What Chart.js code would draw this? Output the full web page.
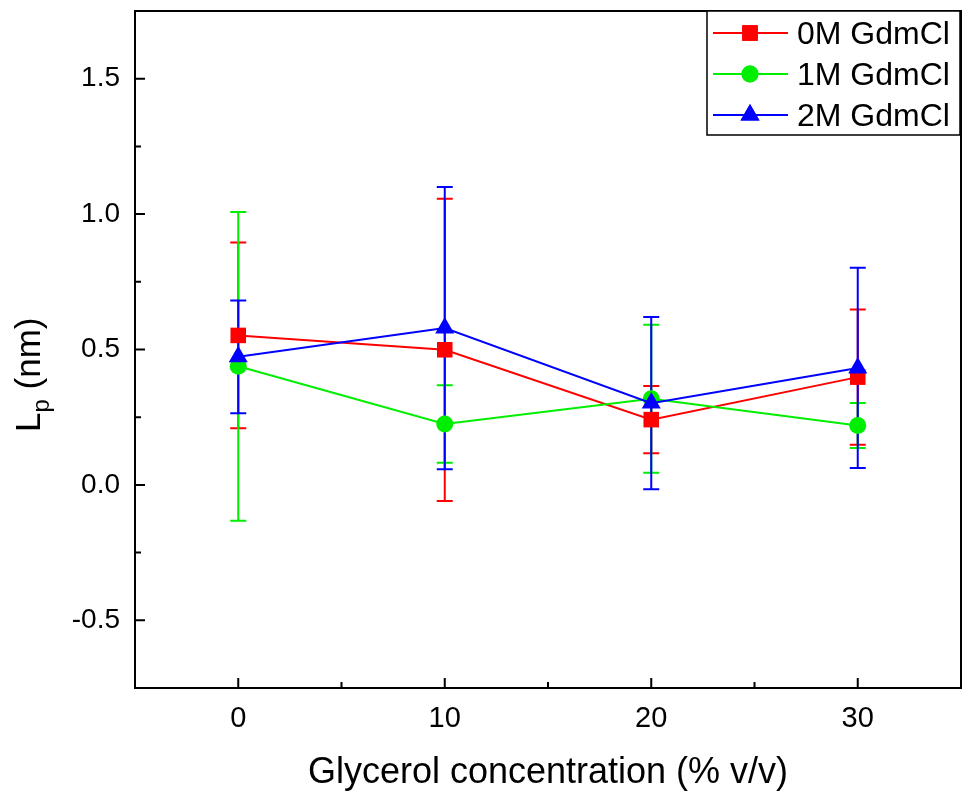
<!DOCTYPE html>
<html><head><meta charset="utf-8">
<script src="https://cdn.jsdelivr.net/npm/chart.js@4.4.0/dist/chart.umd.min.js"></script>
<style>html,body{margin:0;padding:0;background:#fff}#wrap{width:963px;height:793px}</style>
</head><body><div id="wrap"><canvas id="c" width="963" height="793"></canvas></div>
<script>
const concentrations = [0, 10, 20, 30];
const seriesLabels = ['0M GdmCl', '1M GdmCl', '2M GdmCl'];
const lp0M = [0.552, 0.499, 0.241, 0.398];
const err0M = [0.343, 0.558, 0.124, 0.250];
const lp1M = [0.438, 0.225, 0.318, 0.219];
const err1M = [0.570, 0.143, 0.273, 0.083];
const lp2M = [0.473, 0.579, 0.302, 0.432];
const err2M = [0.208, 0.521, 0.318, 0.370];
const xTicks = [0, 10, 20, 30];
const xMinorTicks = [5, 15, 25];
const yTicks = [-0.5, 0, 0.5, 1.0, 1.5];
const yMinorTicks = [-0.25, 0.25, 0.75, 1.25];
const xTitle = 'Glycerol concentration (% v/v)';
const yTitleMain = 'L', yTitleSub = 'p', yTitleRest = ' (nm)';

const colors = ['#ff0000', '#00ee00', '#0000ff'];
const styles = ['rect', 'circle', 'triangle'];
const radii = [11, 8.5, 11];
const FONT = "'Liberation Sans', Arial, sans-serif";

function mk(vals) { return concentrations.map((c, i) => ({x: c, y: vals[i]})); }
const allVals = [lp0M, lp1M, lp2M];
const allErr = [err0M, err1M, err2M];

const datasets = allVals.map((v, i) => ({
  label: seriesLabels[i],
  data: mk(v),
  errors: allErr[i],
  borderColor: colors[i],
  backgroundColor: colors[i],
  borderWidth: 2,
  pointStyle: styles[i],
  pointRadius: radii[i],
  pointHoverRadius: radii[i],
  pointBorderWidth: 0,
  pointBackgroundColor: colors[i],
  tension: 0,
  clip: false,
  order: 2 - i
}));

const errorBars = {
  id: 'errorBars',
  beforeDatasetsDraw(chart) {
    const {ctx, scales: {x, y}} = chart;
    ctx.save();
    ctx.lineWidth = 2;
    chart.data.datasets.forEach(ds => {
      ctx.strokeStyle = ds.borderColor;
      ds.data.forEach((p, j) => {
        const e = ds.errors[j];
        const px = x.getPixelForValue(p.x);
        const t = y.getPixelForValue(p.y + e), b = y.getPixelForValue(p.y - e);
        ctx.beginPath();
        ctx.moveTo(px, t); ctx.lineTo(px, b);
        ctx.moveTo(px - 8, t); ctx.lineTo(px + 8, t);
        ctx.moveTo(px - 8, b); ctx.lineTo(px + 8, b);
        ctx.stroke();
      });
    });
    ctx.restore();
  }
};

const frame = {
  id: 'frame',
  afterDraw(chart) {
    const {ctx, chartArea: a, scales: {x, y}} = chart;
    ctx.save();
    ctx.strokeStyle = '#000';
    ctx.lineWidth = 2;
    ctx.strokeRect(a.left, a.top, a.right - a.left, a.bottom - a.top);
    ctx.beginPath();
    xTicks.forEach(v => { const px = x.getPixelForValue(v); ctx.moveTo(px, a.bottom); ctx.lineTo(px, a.bottom - 10); });
    xMinorTicks.forEach(v => { const px = x.getPixelForValue(v); ctx.moveTo(px, a.bottom); ctx.lineTo(px, a.bottom - 6); });
    yTicks.forEach(v => { const py = y.getPixelForValue(v); ctx.moveTo(a.left, py); ctx.lineTo(a.left + 10, py); });
    yMinorTicks.forEach(v => { const py = y.getPixelForValue(v); ctx.moveTo(a.left, py); ctx.lineTo(a.left + 6, py); });
    ctx.stroke();

    // x title
    ctx.fillStyle = '#000';
    ctx.font = '36px ' + FONT;
    ctx.textAlign = 'center';
    ctx.textBaseline = 'alphabetic';
    ctx.fillText(xTitle, (a.left + a.right) / 2, 783);

    // y title
    ctx.save();
    ctx.translate(40, 432);
    ctx.rotate(-Math.PI / 2);
    ctx.textAlign = 'left';
    ctx.font = '35px ' + FONT;
    ctx.fillText(yTitleMain, 0, 0);
    let w = ctx.measureText(yTitleMain).width;
    ctx.font = '24px ' + FONT;
    ctx.fillText(yTitleSub, w, 9);
    w += ctx.measureText(yTitleSub).width;
    ctx.font = '35px ' + FONT;
    ctx.fillText(yTitleRest, w, 0);
    ctx.restore();

    // legend
    const L = 707, T = a.top, R = a.right - 1, B = 135;
    ctx.fillStyle = '#fff';
    ctx.fillRect(L, T, R - L, B - T);
    ctx.strokeStyle = '#000';
    ctx.lineWidth = 1.5;
    ctx.strokeRect(L, T, R - L, B - T);
    const rows = [33, 74, 115];
    chart.data.datasets.forEach((ds, i) => {
      const ry = rows[i];
      ctx.strokeStyle = ds.borderColor;
      ctx.lineWidth = 2;
      ctx.beginPath(); ctx.moveTo(713, ry); ctx.lineTo(788, ry); ctx.stroke();
      ctx.fillStyle = ds.borderColor;
      Chart.helpers.drawPoint(ctx, {pointStyle: ds.pointStyle, radius: ds.pointRadius, borderWidth: 0}, 750, ry);
      ctx.fill();
      ctx.fillStyle = '#000';
      ctx.font = '32px ' + FONT;
      ctx.textAlign = 'left';
      ctx.textBaseline = 'middle';
      ctx.fillText(ds.label, 797, ry + 2);
    });
    ctx.restore();
  }
};

function zeroPad(s) { s.paddingTop = 0; s.paddingBottom = 0; s.paddingLeft = 0; s.paddingRight = 0; }

new Chart(document.getElementById('c'), {
  type: 'line',
  data: {datasets},
  options: {
    responsive: false,
    animation: false,
    devicePixelRatio: 1,
    layout: {padding: {top: 11, right: 2, left: 0, bottom: 0}, autoPadding: false},
    plugins: {legend: {display: false}, tooltip: {enabled: false}},
    scales: {
      x: {
        type: 'linear', min: -5, max: 35,
        afterFit(s) { s.height = 105; zeroPad(s); },
        afterBuildTicks(s) { s.ticks = xTicks.map(v => ({value: v})); },
        grid: {display: false, drawTicks: false},
        border: {display: false},
        ticks: {color: '#000', font: {family: FONT, size: 29}, padding: 14, maxRotation: 0,
          callback: v => String(v)}
      },
      y: {
        type: 'linear', min: -0.75, max: 1.75,
        afterFit(s) { s.width = 135; zeroPad(s); },
        afterBuildTicks(s) { s.ticks = yTicks.map(v => ({value: v})); },
        grid: {display: false, drawTicks: false},
        border: {display: false},
        ticks: {color: '#000', font: {family: FONT, size: 28}, padding: 15,
          callback: v => Number(v).toFixed(1)}
      }
    }
  },
  plugins: [errorBars, frame]
});
</script></body></html>
